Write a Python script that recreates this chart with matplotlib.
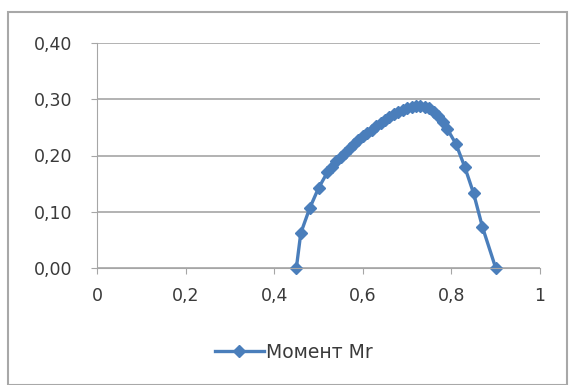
import matplotlib
matplotlib.use("Agg")
import matplotlib.pyplot as plt
from matplotlib.patches import Rectangle
from matplotlib.ticker import FuncFormatter

# Slip values and moment Mr
s_values = [0.45, 0.46, 0.48, 0.50, 0.52, 0.53, 0.54, 0.55, 0.56, 0.57,
            0.58, 0.59, 0.60, 0.61, 0.62, 0.63, 0.64, 0.65, 0.66, 0.67,
            0.68, 0.69, 0.70, 0.71, 0.72, 0.73, 0.74, 0.75, 0.76, 0.77,
            0.78, 0.79, 0.81, 0.83, 0.85, 0.87, 0.90]
mr_values = [0.000, 0.062, 0.106, 0.142, 0.170, 0.180, 0.190, 0.198, 0.205, 0.213,
             0.220, 0.227, 0.234, 0.240, 0.246, 0.252, 0.258, 0.263, 0.268, 0.273,
             0.277, 0.281, 0.284, 0.286, 0.288, 0.288, 0.287, 0.284, 0.278, 0.270,
             0.260, 0.248, 0.221, 0.180, 0.133, 0.073, 0.000]
series_label = "Момент Mr"
x_ticks = [0, 0.2, 0.4, 0.6, 0.8, 1]
y_ticks = [0.0, 0.1, 0.2, 0.3, 0.4]

blue = "#4a7ebb"
grid_gray = "#a6a6a6"
text_color = "#3a3a3a"

fig = plt.figure(figsize=(5.74, 3.85), dpi=100)
fig.patches.append(Rectangle((8 / 574, 0.0), 559 / 574, 1 - 12 / 385,
                             transform=fig.transFigure, fill=False,
                             edgecolor="#a8a8a8", linewidth=1.5))

ax = fig.add_axes([97 / 574, 117 / 385, 443 / 574, 225 / 385])
ax.plot(s_values, mr_values, color=blue, linewidth=2.4, marker="D",
        markersize=6.5, markerfacecolor=blue, markeredgecolor=blue,
        label=series_label, clip_on=False)

ax.set_xlim(0, 1)
ax.set_ylim(0, 0.4)
ax.set_xticks(x_ticks)
ax.set_yticks(y_ticks)


def comma_x(v, pos):
    if abs(v - round(v)) < 1e-9:
        return str(int(round(v)))
    return f"{v:.1f}".replace(".", ",")


ax.xaxis.set_major_formatter(FuncFormatter(comma_x))
ax.yaxis.set_major_formatter(FuncFormatter(lambda v, p: f"{v:.2f}".replace(".", ",")))

ax.grid(axis="y", color=grid_gray, linewidth=1.2)
ax.set_axisbelow(True)
for side in ["top", "right"]:
    ax.spines[side].set_visible(False)
ax.spines["left"].set_color(grid_gray)
ax.spines["bottom"].set_color(grid_gray)
ax.tick_params(axis="both", colors=grid_gray, labelcolor=text_color,
               labelsize=12.5, length=4)
ax.tick_params(axis="x", direction="out", pad=10)
ax.tick_params(axis="y", direction="out", pad=14)

fig.legend(loc="center", bbox_to_anchor=(294 / 574, 1 - 352 / 385),
           frameon=False, fontsize=13.5, handlelength=2.6,
           handletextpad=0.15, labelcolor=text_color)

fig.savefig("out.png", dpi=100)
